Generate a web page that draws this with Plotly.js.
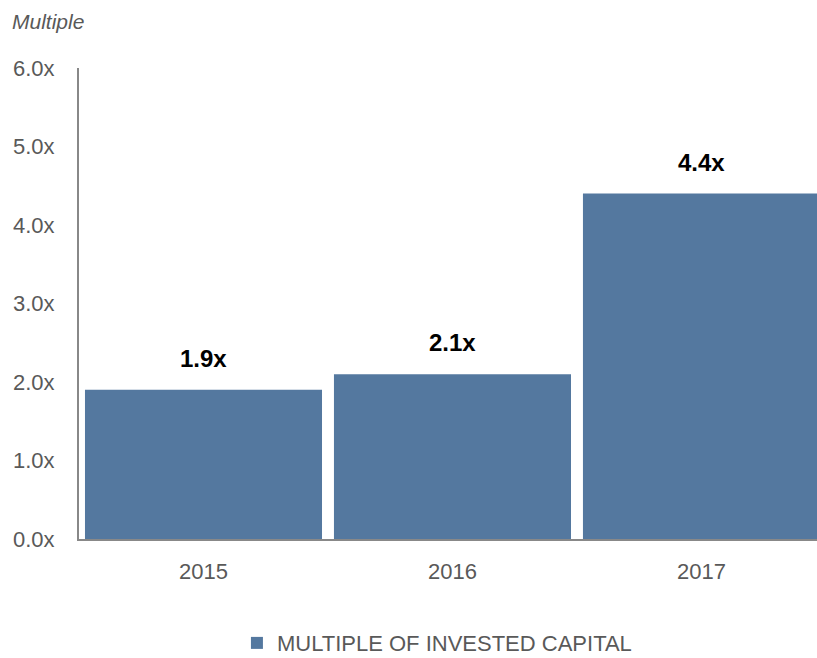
<!DOCTYPE html>
<html><head><meta charset="utf-8">
<script src="https://cdn.plot.ly/plotly-3.0.1.min.js"></script>
<style>html,body{margin:0;padding:0;background:#fff}#c{width:817px;height:658px}</style>
</head><body><div id="c"></div>
<script>
const years = ['2015', '2016', '2017'];
const moic = [1.9, 2.1, 4.4];
const yTicks = [0, 1, 2, 3, 4, 5, 6];
const yTickText = ['0.0x', '1.0x', '2.0x', '3.0x', '4.0x', '5.0x', '6.0x'];
const seriesName = 'MULTIPLE OF INVESTED CAPITAL';
const axisLabel = 'Multiple';

const FONT = '"Liberation Sans Narrow", "Arial Narrow", "Liberation Sans", Arial, sans-serif';
const GRAY = '#595959';

const trace = {
  type: 'bar', x: years, y: moic, name: seriesName,
  marker: {color: '#54789f'}, showlegend: true, hoverinfo: 'none'
};

const annotations = years.map((yr, i) => ({
  x: i, y: moic[i], xref: 'x', yref: 'y', text: '<b>' + moic[i].toFixed(1) + 'x</b>',
  showarrow: false, yanchor: 'bottom', yshift: 16,
  font: {family: FONT, size: 24, color: '#000'}
}));
annotations.push({
  xref: 'paper', yref: 'paper', x: -0.094, y: 1.098, xanchor: 'left', yanchor: 'middle',
  text: '<i>' + axisLabel + '</i>', showarrow: false,
  font: {family: FONT, size: 21, color: GRAY}
});

const layout = {
  width: 817, height: 658,
  margin: {l: 79, r: 0, t: 68, b: 119, autoexpand: false},
  paper_bgcolor: '#fff', plot_bgcolor: '#fff',
  bargap: 0.048,
  xaxis: {
    type: 'category', range: [-0.5, 2.464], showgrid: false, zeroline: false,
    showline: true, linecolor: '#888', linewidth: 2, ticks: '',
    ticklabelstandoff: 12, automargin: false,
    tickfont: {family: FONT, size: 22, color: GRAY}
  },
  yaxis: {
    range: [0, 6], tickvals: yTicks, ticktext: yTickText, showgrid: false, zeroline: false,
    showline: true, linecolor: '#888', linewidth: 2, ticks: '',
    ticklabelstandoff: 18, automargin: false,
    tickfont: {family: FONT, size: 22, color: GRAY}
  },
  legend: {
    orientation: 'h', x: 0.485, xanchor: 'center', y: -0.221, yanchor: 'middle',
    font: {family: FONT, size: 22, color: GRAY}, itemwidth: 20
  },
  annotations: annotations,
  showlegend: true
};

Plotly.newPlot('c', [trace], layout, {staticPlot: true, displayModeBar: false});
</script></body></html>
